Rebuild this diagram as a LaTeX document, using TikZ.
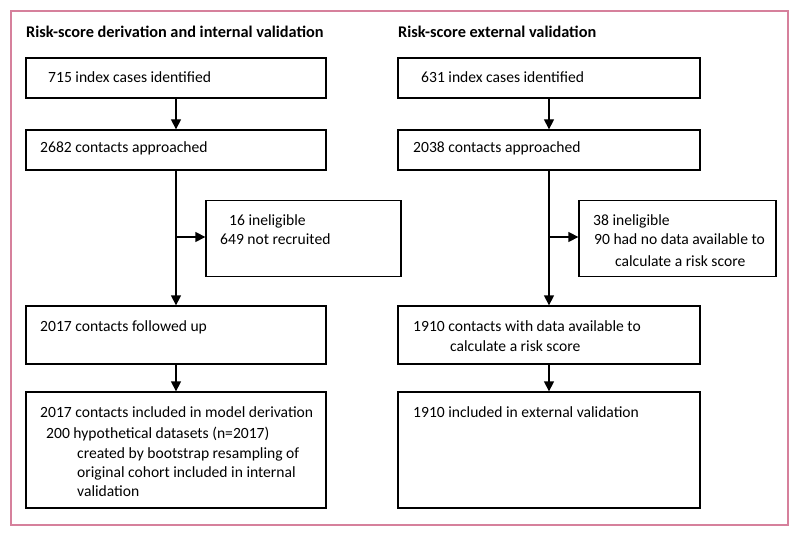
\documentclass[tikz,border=0pt]{standalone}
\usepackage{fontspec}
\setmainfont{Carlito}
\usetikzlibrary{arrows.meta}
\definecolor{framepink}{RGB}{214,128,156}
\tikzset{
  box/.style={draw=black, line width=1.3pt, minimum width=#1, inner sep=0pt},
  txt/.style={anchor=base west, inner sep=0pt, font=\fontsize{15.6}{20}\selectfont},
  head/.style={anchor=base west, inner sep=0pt, font=\fontsize{16.3}{20}\selectfont\bfseries},
  arr/.style={line width=1.3pt, -{Triangle[length=10pt,width=10pt]}},
  ln/.style={line width=1.3pt}
}
\begin{document}
\begin{tikzpicture}[x=1pt,y=-1pt]
\useasboundingbox (0,0) rectangle (800,537);
\draw[framepink, line width=1.2pt] (11,11) rectangle (788,525);
% headings
\node[head] (h1) at (26,38) {Risk-score derivation and internal validation};
\node[head] (h2) at (398,38) {Risk-score external validation};
% left column boxes
\node[box=300pt, minimum height=40pt] (l1) at (176,78) {};
\node[box=300pt, minimum height=40pt] (l2) at (176,150) {};
\node[box=195pt, minimum height=76pt] (le) at (303.5,238.7) {};
\node[box=300pt, minimum height=58pt] (l3) at (176,335) {};
\node[box=300pt, minimum height=116pt] (l4) at (176,450) {};
% right column boxes
\node[box=302pt, minimum height=40pt] (r1) at (549,78) {};
\node[box=302pt, minimum height=40pt] (r2) at (549,150) {};
\node[box=197pt, minimum height=76pt] (re) at (677.5,238.7) {};
\node[box=302pt, minimum height=58pt] (r3) at (549,335) {};
\node[box=302pt, minimum height=116pt] (r4) at (549,450) {};
% texts left
\node[txt] (t1) at (48,83) {715 index cases identified};
\node[txt] (t2) at (40,153) {2682 contacts approached};
\node[txt] (t3) at (229,226) {16 ineligible};
\node[txt] (t4) at (220,245) {649 not recruited};
\node[txt] (t5) at (40,331) {2017 contacts followed up};
\node[txt] (t6) at (40,417) {2017 contacts included in model derivation};
\node[txt] (t7) at (46,438) {200 hypothetical datasets (n=2017)};
\node[txt] (t8) at (77,458) {created by bootstrap resampling of};
\node[txt] (t9) at (77,477) {original cohort included in internal};
\node[txt] (t10) at (77,496) {validation};
% texts right
\node[txt] (u1) at (421,83) {631 index cases identified};
\node[txt] (u2) at (413,153) {2038 contacts approached};
\node[txt] (u3) at (593,226) {38 ineligible};
\node[txt] (u4) at (594,245) {90 had no data available to};
\node[txt] (u5) at (615,266) {calculate a risk score};
\node[txt] (u6) at (413,331) {1910 contacts with data available to};
\node[txt] (u7) at (450,351) {calculate a risk score};
\node[txt] (u8) at (413,417) {1910 included in external validation};
% connectors left
\coordinate (lj) at (176,237);
\draw[arr] (l1.south) -- (l2.north);
\draw[arr] (l2.south) -- (l3.north);
\draw[arr] (lj) -- (lj -| le.west);
\draw[arr] (l3.south) -- (l4.north);
% connectors right
\coordinate (rj) at (549,237);
\draw[arr] (r1.south) -- (r2.north);
\draw[arr] (r2.south) -- (r3.north);
\draw[arr] (rj) -- (rj -| re.west);
\draw[arr] (r3.south) -- (r4.north);
\end{tikzpicture}
\end{document}
